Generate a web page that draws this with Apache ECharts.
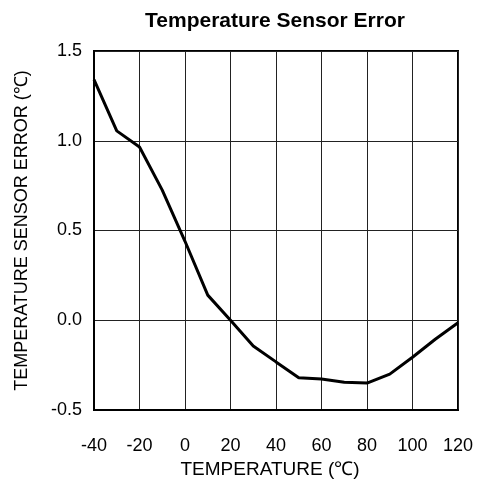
<!DOCTYPE html>
<html>
<head>
<meta charset="utf-8">
<script src="https://cdn.jsdelivr.net/npm/echarts@6/dist/echarts.min.js"></script>
<style>
  html, body { margin: 0; padding: 0; background: #fff; }
  #chart { width: 483px; height: 487px; }
</style>
</head>
<body>
<div id="chart"></div>
<script>
// temperature (°C) vs sensor error (°C)
const temps = [-40, -30, -20, -10, 0, 10, 20, 30, 40, 50, 60, 70, 80, 90, 100, 110, 120]
const errors = [1.34, 1.055, 0.965, 0.725, 0.44, 0.14, 0.0, -0.143, -0.232, -0.32, -0.327, -0.345, -0.35, -0.30, -0.206, -0.106, -0.014]

const font = 'Liberation Sans, Arial, sans-serif'

let myChart = echarts.init(document.getElementById('chart'))

let option = {
  animation: false,
  title: {
    text: 'Temperature Sensor Error',
    left: 270,
    top: 6,
    textAlign: 'center',
    textStyle: { fontFamily: font, fontSize: 21, fontWeight: 'bold', color: '#000' }
  },
  grid: {
    left: 94,
    top: 51,
    right: 25,
    bottom: 77,
    show: true,
    borderColor: '#000',
    borderWidth: 2
  },
  xAxis: {
    type: 'value',
    min: -40,
    max: 120,
    interval: 20,
    name: 'TEMPERATURE (℃)',
    nameLocation: 'middle',
    nameGap: 50,
    nameTextStyle: { fontFamily: font, fontSize: 19, color: '#000', padding: [0, 12, 0, 0] },
    axisLine: { show: true, onZero: false, lineStyle: { color: '#000', width: 2 } },
    axisTick: { show: false },
    axisLabel: { fontFamily: font, fontSize: 18, color: '#000', margin: 27 },
    splitLine: { show: true, lineStyle: { color: '#222', width: 1 } }
  },
  yAxis: {
    type: 'value',
    min: -0.5,
    max: 1.5,
    interval: 0.5,
    name: 'TEMPERATURE SENSOR ERROR (℃)',
    nameLocation: 'middle',
    nameGap: 63,
    nameTextStyle: { fontFamily: font, fontSize: 18, color: '#000' },
    axisLine: { show: true, onZero: false, lineStyle: { color: '#000', width: 2 } },
    axisTick: { show: false },
    axisLabel: {
      fontFamily: font, fontSize: 18, color: '#000', margin: 12,
      formatter: (v) => v.toFixed(1)
    },
    splitLine: { show: true, lineStyle: { color: '#222', width: 1 } }
  },
  series: [
    {
      type: 'line',
      data: temps.map((t, i) => [t, errors[i]]),
      symbol: 'none',
      lineStyle: { color: '#000', width: 3 }
    }
  ]
}

myChart.setOption(option)
</script>
</body>
</html>
